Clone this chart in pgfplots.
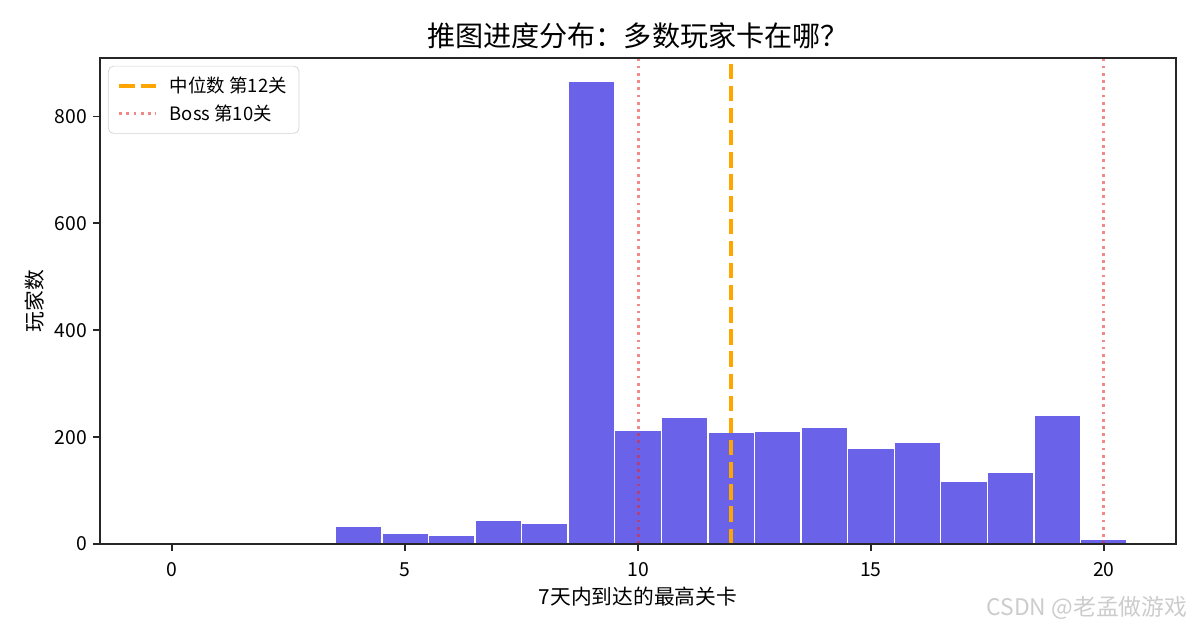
\documentclass[border=0pt]{standalone}
\usepackage{pgfplots}
\pgfplotsset{compat=1.18}
\usepackage{fontspec}
\setmainfont{Noto Sans CJK SC}

\definecolor{barblue}{RGB}{106,98,232}
\definecolor{medorange}{RGB}{255,165,0}
\definecolor{bossred}{RGB}{230,40,40}
\definecolor{axisgray}{RGB}{38,38,38}

\begin{document}
\begin{tikzpicture}
    \path[use as bounding box] (0,0) rectangle (24,12.6);
    \begin{axis}[
        at={(2cm,1.72cm)}, anchor=south west,
        scale only axis,
        width=21.52cm, height=9.72cm,
        xmin=-1.55, xmax=21.55,
        ymin=0, ymax=909.3,
        xtick={0,5,10,15,20},
        ytick={0,200,400,600,800},
        tick align=outside, tick pos=left,
        major tick length=0.14cm,
        axis line style={line width=0.95pt, axisgray},
        every tick/.style={line width=0.95pt, axisgray},
        ticklabel style={font=\fontsize{11}{13}\selectfont},
        xticklabel style={yshift=-0.1cm},
        /pgf/number format/assume math mode=true,
        axis on top,
        legend cell align=left,
        legend style={
            at={(0.0074,0.984)}, anchor=north west,
            draw=black!17, rounded corners=3pt, fill=white,
            font=\fontsize{10.5}{12}\selectfont,
            row sep=1.5pt, inner xsep=5pt, inner ysep=4pt,
        },
        legend image code/.code={\draw[#1] (0cm,0cm) -- (0.74cm,0cm); \path (0.9cm,0cm);},
    ]
        % histogram, one bin per level, bins -0.5 .. 20.5 (levels 0-3 empty)
        \addplot[ybar interval, fill=barblue, draw=white, line width=0.8pt, forget plot] coordinates {
            (3.5,33) (4.5,20) (5.5,16) (6.5,44) (7.5,39)
            (8.5,866) (9.5,213) (10.5,238) (11.5,209) (12.5,211)
            (13.5,219) (14.5,179) (15.5,191) (16.5,118) (17.5,134)
            (18.5,240) (19.5,9) (20.5,0)
        };
        % median level
        \addplot[medorange, line width=2.4pt, dash pattern=on 8.8pt off 3.8pt] coordinates {(12,0) (12,909.3)};
        \addlegendentry{中位数 第12关}
        % boss levels
        \addplot[bossred, opacity=0.55, line width=1.7pt, dash pattern=on 1.55pt off 2.55pt] coordinates {(10,0) (10,909.3)};
        \addlegendentry{Boss 第10关}
        \addplot[bossred, opacity=0.55, line width=1.7pt, dash pattern=on 1.55pt off 2.55pt, forget plot] coordinates {(20,0) (20,909.3)};
    \end{axis}
    \node[font=\fontsize{16}{19}\selectfont] at (12.76,11.88) {推图进度分布：多数玩家卡在哪？};
    \node[font=\fontsize{11.8}{14}\selectfont] at (12.76,0.66) {7天内到达的最高关卡};
    \node[font=\fontsize{11.8}{14}\selectfont, rotate=90] at (0.7,6.58) {玩家数};
    \node[font=\fontsize{13}{15}\selectfont, text=black!20] at (21.74,0.44) {CSDN @老孟做游戏};
\end{tikzpicture}
\end{document}
